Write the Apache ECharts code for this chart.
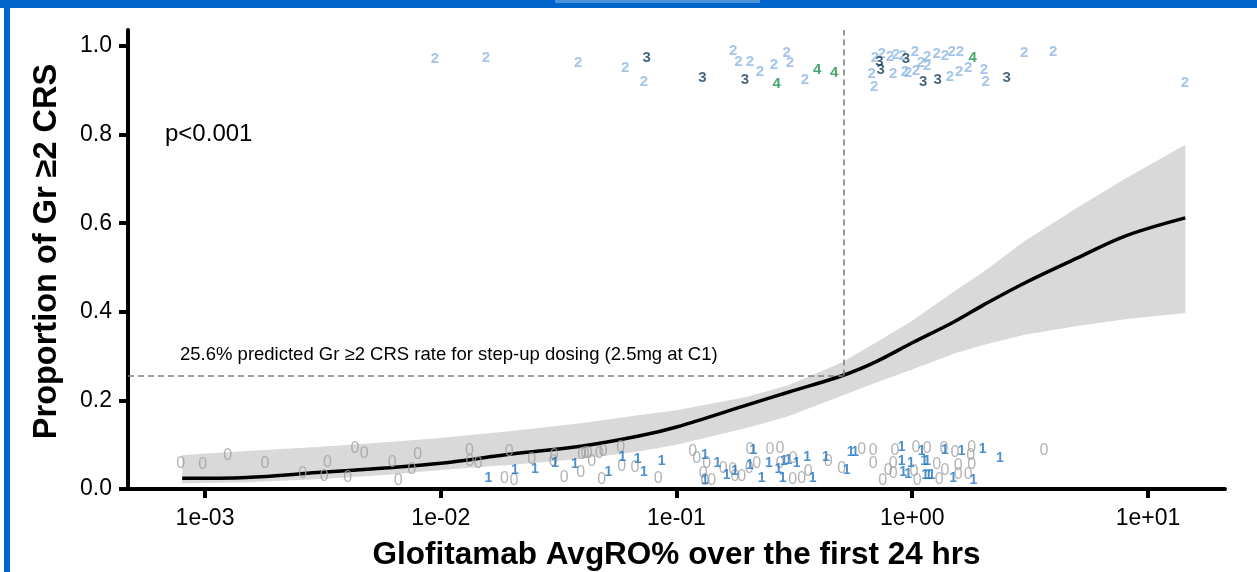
<!DOCTYPE html>
<html>
<head>
<meta charset="utf-8">
<title>Gr >=2 CRS vs AvgRO</title>
<script src="https://cdn.jsdelivr.net/npm/echarts@6/dist/echarts.min.js"></script>
<style>
html,body{margin:0;padding:0;background:#fff;}
#main{width:1257px;height:572px;}
</style>
</head>
<body>
<div id="main"></div>
<script>
// axis ticks
var xTicks = [0.001, 0.01, 0.1, 1, 10];
var xTickLabels = ['1e-03', '1e-02', '1e-01', '1e+00', '1e+01'];
var yTicks = [0, 0.2, 0.4, 0.6, 0.8, 1.0];

// logistic fit and its confidence band
var fitX = [0.0008, 0.0015, 0.003, 0.006, 0.01, 0.02, 0.04, 0.07, 0.1, 0.2, 0.3, 0.5, 0.7, 1, 1.5, 2, 3, 5, 8, 14.4];
var fitY = [0.024, 0.026, 0.037, 0.048, 0.058, 0.079, 0.097, 0.120, 0.140, 0.190, 0.219, 0.255, 0.287, 0.330, 0.377, 0.415, 0.465, 0.521, 0.571, 0.612];
var ciLow = [0.013, 0.015, 0.022, 0.032, 0.043, 0.055, 0.068, 0.085, 0.100, 0.138, 0.165, 0.210, 0.240, 0.270, 0.305, 0.325, 0.348, 0.368, 0.383, 0.397];
var ciHigh = [0.077, 0.086, 0.095, 0.106, 0.115, 0.131, 0.149, 0.167, 0.178, 0.208, 0.235, 0.285, 0.330, 0.380, 0.445, 0.490, 0.560, 0.635, 0.700, 0.777];

// predicted rate for step-up dosing
var predRate = 0.256;
var predExposure = 0.51;

// patients by max CRS grade: [AvgRO, jittered proportion]
var grade0 = [[0.000788,0.058],[0.000978,0.054],[0.001248,0.0745],[0.001797,0.058],[0.002597,0.034],[0.003303,0.059],[0.003207,0.028],[0.004029,0.026],[0.004327,0.092],[0.004739,0.081],[0.00623,0.060],[0.006605,0.019],[0.007529,0.044],[0.007985,0.078],[0.01322,0.086],[0.01331,0.062],[0.01443,0.058],[0.01953,0.084],[0.01861,0.024],[0.02045,0.019],[0.02431,0.067],[0.03031,0.0745],[0.03002,0.062],[0.03342,0.0255],[0.03962,0.077],[0.04092,0.079],[0.04226,0.081],[0.04368,0.062],[0.04704,0.081],[0.04892,0.084],[0.05799,0.094],[0.03923,0.037],[0.04816,0.022],[0.05856,0.050],[0.06668,0.048],[0.08373,0.024],[0.1172,0.084],[0.1218,0.069],[0.1342,0.058],[0.1299,0.035],[0.1321,0.019],[0.141,0.019],[0.1579,0.047],[0.1731,0.044],[0.177,0.028],[0.189,0.028],[0.205,0.088],[0.2036,0.047],[0.2189,0.058],[0.2492,0.088],[0.2748,0.092],[0.2748,0.058],[0.313,0.069],[0.3112,0.022],[0.3397,0.024],[0.3623,0.039],[0.4405,0.062],[0.502,0.047],[0.6102,0.090],[0.6837,0.086],[0.6837,0.058],[0.845,0.086],[1.037,0.094],[1.158,0.092],[1.364,0.092],[1.518,0.082],[1.787,0.094],[1.77,0.0745],[3.622,0.086],[0.831,0.058],[1.27,0.054],[1.568,0.052],[1.787,0.054],[0.7914,0.041],[0.831,0.034],[1.017,0.039],[1.377,0.041],[1.568,0.032],[0.7491,0.019],[1.05,0.019],[1.302,0.022],[1.729,0.032]];
var grade1 = [[0.01591,0.024],[0.02065,0.043],[0.02511,0.044],[0.03052,0.058],[0.0371,0.056],[0.05137,0.037],[0.05891,0.072],[0.06844,0.067],[0.0728,0.039],[0.08654,0.064],[0.1321,0.077],[0.149,0.058],[0.1321,0.020],[0.1633,0.032],[0.177,0.041],[0.2117,0.088],[0.205,0.054],[0.2298,0.024],[0.2468,0.059],[0.2703,0.044],[0.2822,0.024],[0.2858,0.062],[0.298,0.065],[0.3236,0.058],[0.3587,0.072],[0.3782,0.024],[0.4307,0.073],[0.5272,0.043],[0.5483,0.084],[0.5719,0.084],[0.902,0.095],[1.097,0.086],[1.377,0.088],[1.621,0.086],[1.99,0.090],[2.356,0.069],[0.902,0.062],[0.988,0.059],[1.122,0.064],[1.158,0.062],[0.916,0.037],[0.962,0.034],[1.133,0.032],[1.17,0.032],[1.209,0.032],[1.493,0.024],[1.816,0.020]];
var grade2 = [[0.00945,0.970],[0.01556,0.974],[0.0383,0.961],[0.0605,0.950],[0.0728,0.918],[0.174,0.989],[0.183,0.965],[0.205,0.965],[0.226,0.942],[0.259,0.957],[0.293,0.984],[0.303,0.961],[0.351,0.923],[0.695,0.972],[0.742,0.983],[0.673,0.938],[0.690,0.908],[0.805,0.976],[0.853,0.980],[0.914,0.977],[1.027,0.987],[0.831,0.938],[0.932,0.942],[0.962,0.940],[1.037,0.944],[1.089,0.961],[1.158,0.976],[1.158,0.955],[1.270,0.982],[1.377,0.977],[1.470,0.987],[1.594,0.987],[1.446,0.931],[1.583,0.942],[1.729,0.950],[2.016,0.946],[2.049,0.919],[2.987,0.984],[3.966,0.987],[14.35,0.916]];
var grade3 = [[0.0747,0.972],[0.1287,0.927],[0.1953,0.923],[0.725,0.965],[0.735,0.946],[0.941,0.970],[1.114,0.919],[1.282,0.923],[2.516,0.929]];
var grade4 = [[0.2661,0.914],[0.3956,0.947],[0.4670,0.940],[1.805,0.972]];

var FONT = 'Liberation Sans, Arial, sans-serif';

function gradeSeries(name, data, color, size, weight) {
	return {
		name: name,
		type: 'scatter',
		data: data,
		symbol: 'circle',
		symbolSize: 1,
		itemStyle: {color: 'rgba(0,0,0,0)'},
		z: 5,
		silent: true,
		label: {
			show: true,
			position: 'inside',
			formatter: name,
			color: color,
			fontSize: size,
			fontWeight: weight,
			fontFamily: FONT
		}
	};
}

var myChart = echarts.init(document.getElementById('main'));
var option = {
	animation: false,
	textStyle: {fontFamily: FONT},
	grid: {left: 128, right: 32, top: 30, bottom: 83, outerBoundsMode: 'none', containLabel: false},
	xAxis: {
		type: 'log',
		logBase: 10,
		min: 4.713e-4,
		max: 21.22,
		name: 'Glofitamab AvgRO% over the first 24 hrs',
		nameLocation: 'middle',
		nameGap: 50,
		nameTextStyle: {fontSize: 31.5, fontWeight: 'bold', color: '#000'},
		axisLine: {onZero: false, lineStyle: {color: '#000', width: 4}},
		axisTick: {customValues: xTicks, length: 9, lineStyle: {color: '#000', width: 4}},
		axisLabel: {
			customValues: xTicks,
			fontSize: 23,
			color: '#000',
			margin: 18,
			formatter: function (v) {
				for (var i = 0; i < xTicks.length; i++) {
					if (Math.abs(Math.log10(v) - Math.log10(xTicks[i])) < 1e-6) return xTickLabels[i];
				}
				return '';
			}
		},
		splitLine: {show: false}
	},
	yAxis: {
		type: 'value',
		min: 0,
		max: 1.036,
		name: 'Proportion of Gr \u22652 CRS',
		nameLocation: 'middle',
		nameGap: 64,
		nameTextStyle: {fontSize: 32.5, fontWeight: 'bold', color: '#000', padding: [0, 0, 0, 16]},
		axisLine: {show: true, onZero: false, lineStyle: {color: '#000', width: 4}},
		axisTick: {show: true, customValues: yTicks, length: 9, lineStyle: {color: '#000', width: 4}},
		axisLabel: {
			customValues: yTicks,
			fontSize: 23,
			color: '#000',
			margin: 16,
			formatter: function (v) { return v.toFixed(1); }
		},
		splitLine: {show: false}
	},
	graphic: [
		{type: 'rect', shape: {x: 0, y: 0, width: 1257, height: 8}, style: {fill: '#0066cc'}, z: 100},
		{type: 'rect', shape: {x: 555, y: 0, width: 205, height: 3}, style: {fill: '#4d94dc'}, z: 101},
		{type: 'rect', shape: {x: 4, y: 0, width: 6, height: 572}, style: {fill: '#0066cc'}, z: 100},
		{type: 'text', left: 165, top: 122, z: 100,
			style: {text: 'p<0.001', fontSize: 24, fontFamily: FONT, fill: '#000'}},
		{type: 'text', left: 180, top: 345, z: 100,
			style: {text: '25.6% predicted Gr \u22652 CRS rate for step-up dosing (2.5mg at C1)', fontSize: 18.5, fontFamily: FONT, fill: '#000'}}
	],
	series: [
		{
			// confidence band drawn as one polygon through the axis scales
			name: 'ci',
			type: 'custom',
			data: fitX.map(function (x, i) { return [x, ciLow[i], ciHigh[i]]; }),
			encode: {x: 0, y: [1, 2]},
			silent: true,
			z: 1,
			renderItem: function (params, api) {
				if (params.dataIndex !== 0) return;
				var pts = [];
				for (var i = 0; i < fitX.length; i++) pts.push(api.coord([fitX[i], ciHigh[i]]));
				for (var j = fitX.length - 1; j >= 0; j--) pts.push(api.coord([fitX[j], ciLow[j]]));
				return {type: 'polygon', shape: {points: pts}, style: {fill: '#d9d9d9'}};
			}
		},
		{
			name: 'fit',
			type: 'line',
			data: fitX.map(function (x, i) { return [x, fitY[i]]; }),
			symbol: 'none',
			smooth: 0.35,
			silent: true,
			lineStyle: {color: '#000', width: 3.5},
			z: 3,
			markLine: {
				silent: true,
				symbol: ['none', 'none'],
				label: {show: false},
				lineStyle: {color: '#808080', width: 1.6, type: [6, 4]},
				data: [
					[{coord: [4.713e-4, predRate]}, {coord: [predExposure, predRate]}],
					[{coord: [predExposure, predRate]}, {coord: [predExposure, 1.036]}]
				]
			}
		},
		gradeSeries('0', grade0, '#a0a0a0', 16, 'normal'),
		gradeSeries('1', grade1, '#1f74c1', 14, 'bold'),
		gradeSeries('2', grade2, '#8db6e3', 15, 'bold'),
		gradeSeries('3', grade3, '#173d5e', 15, 'bold'),
		gradeSeries('4', grade4, '#17924a', 15, 'bold')
	]
};
myChart.setOption(option);
</script>
</body>
</html>
